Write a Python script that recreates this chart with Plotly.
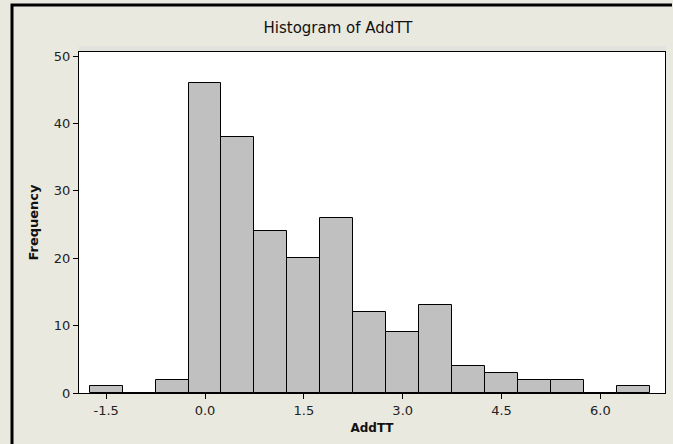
import plotly.graph_objects as go

bin_centers = [-1.5, -1.0, -0.5, 0.0, 0.5, 1.0, 1.5, 2.0, 2.5, 3.0, 3.5, 4.0, 4.5, 5.0, 5.5, 6.0, 6.5]
frequencies = [1, 0, 2, 46, 38, 24, 20, 26, 12, 9, 13, 4, 3, 2, 2, 0, 1]
x_ticks = [-1.5, 0.0, 1.5, 3.0, 4.5, 6.0]
x_tick_labels = ["-1.5", "0.0", "1.5", "3.0", "4.5", "6.0"]
y_ticks = [0, 10, 20, 30, 40, 50]

W, H = 673, 444
L, R, T, B = 79, 8, 52, 51
pw, ph = W - L - R, H - T - B

def px(x):
    return (x - L) / pw

def py(y):
    return (H - B - y) / ph

font = "DejaVu Sans"

fig = go.Figure()
fig.add_trace(go.Bar(
    x=bin_centers, y=frequencies, width=0.5,
    marker=dict(color="#C0C0C0", line=dict(color="#000000", width=1)),
    hoverinfo="x+y",
))

border_path = "M {a},{b} L {c},{d} L {e},{f}".format(
    a=px(12), b=py(H), c=px(12), d=py(5), e=px(W - 1), f=py(5))

shapes = [
    # light band above the plot frame
    dict(type="rect", xref="paper", yref="paper", x0=px(79), x1=px(666), y0=py(52), y1=py(46),
         fillcolor="#E2E2DE", line=dict(width=0), layer="below"),
    # outer black border (top and left)
    dict(type="path", xref="paper", yref="paper", path=border_path,
         line=dict(color="#000000", width=3)),
]

fig.update_layout(
    width=W, height=H,
    margin=dict(l=L, r=R, t=T, b=B, autoexpand=False),
    paper_bgcolor="#E9E9E0",
    plot_bgcolor="#FFFFFF",
    showlegend=False,
    bargap=0,
    title=dict(text="Histogram of AddTT", x=338 / W, xanchor="center",
               y=1 - 28 / H, yanchor="middle",
               font=dict(family=font, size=15, color="#111111")),
    shapes=shapes,
    font=dict(family=font, size=13, color="#222222"),
)

fig.update_xaxes(
    range=[-1.912, 6.98], tickvals=x_ticks, ticktext=x_tick_labels,
    showgrid=False, zeroline=False, automargin=False,
    showline=True, linecolor="#000000", linewidth=1, mirror=True,
    ticks="outside", ticklen=5, tickcolor="#000000",
    tickfont=dict(family=font, size=13, color="#222222"),
    title=dict(text="<b>AddTT</b>", standoff=7, font=dict(family=font, size=12, color="#111111")),
)
fig.update_yaxes(
    range=[0, 50.6], tickvals=y_ticks,
    showgrid=False, zeroline=False, automargin=False,
    showline=True, linecolor="#000000", linewidth=1, mirror=True,
    ticks="outside", ticklen=5, tickcolor="#000000",
    tickfont=dict(family=font, size=13, color="#222222"),
    title=dict(text="<b>Frequency</b>", standoff=12, font=dict(family=font, size=13, color="#111111")),
)

fig.write_html("out.html", config={"displayModeBar": False},
               post_script="document.body.style.margin='0';document.body.style.overflow='hidden';")
